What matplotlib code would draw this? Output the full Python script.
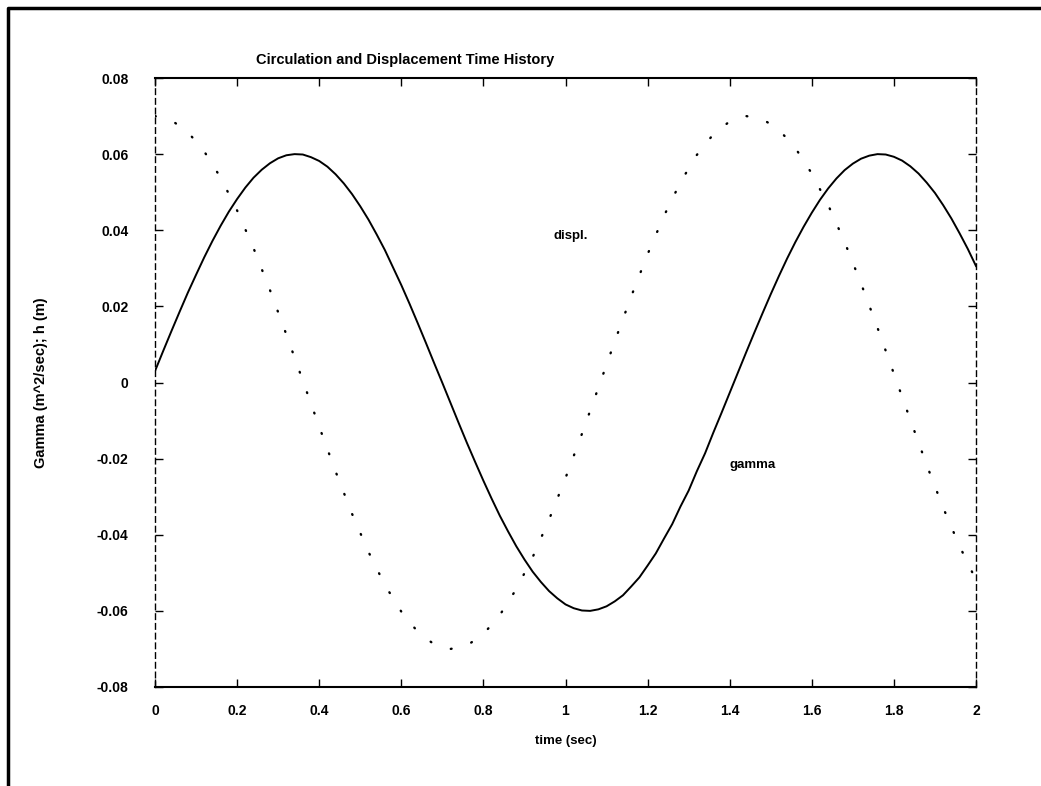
import numpy as np
import matplotlib
matplotlib.use("Agg")
import matplotlib.pyplot as plt
from matplotlib.lines import Line2D

plt.rcParams['font.family'] = ['Liberation Sans', 'DejaVu Sans']
plt.rcParams['font.weight'] = 'bold'
plt.rcParams['axes.labelweight'] = 'bold'
plt.rcParams['lines.scale_dashes'] = False

# time samples (sec)
t_gamma = np.arange(101) * 0.02
t_displ = np.arange(51) * 0.04

# circulation gamma (m^2/sec)
gamma = [0.0030, 0.0083, 0.0135, 0.0186, 0.0236, 0.0283, 0.0329, 0.0372, 0.0412, 0.0449,
         0.0482, 0.0512, 0.0538, 0.0559, 0.0576, 0.0589, 0.0597, 0.0600, 0.0599, 0.0592,
         0.0582, 0.0567, 0.0547, 0.0523, 0.0495, 0.0463, 0.0428, 0.0389, 0.0348, 0.0302,
         0.0256, 0.0207, 0.0156, 0.0104, 0.0051, -0.0001, -0.0054, -0.0107, -0.0159, -0.0209,
         -0.0258, -0.0305, -0.0350, -0.0391, -0.0430, -0.0465, -0.0497, -0.0524, -0.0548, -0.0567,
         -0.0583, -0.0593, -0.0599, -0.0600, -0.0596, -0.0588, -0.0575, -0.0559, -0.0536, -0.0512,
         -0.0481, -0.0449, -0.0410, -0.0372, -0.0326, -0.0284, -0.0233, -0.0186, -0.0132, -0.0080,
         -0.0027, 0.0026, 0.0079, 0.0131, 0.0182, 0.0232, 0.0280, 0.0326, 0.0369, 0.0409,
         0.0446, 0.0480, 0.0510, 0.0536, 0.0558, 0.0575, 0.0588, 0.0596, 0.0600, 0.0599,
         0.0593, 0.0583, 0.0568, 0.0549, 0.0525, 0.0498, 0.0466, 0.0431, 0.0392, 0.0351,
         0.0306]

# displacement h (m)
displ = [0.0700, 0.0689, 0.0658, 0.0607, 0.0538, 0.0452, 0.0353, 0.0243, 0.0126, 0.0005,
         -0.0116, -0.0234, -0.0345, -0.0445, -0.0532, -0.0602, -0.0655, -0.0688, -0.0700, -0.0691,
         -0.0661, -0.0611, -0.0543, -0.0459, -0.0360, -0.0251, -0.0135, -0.0014, 0.0108, 0.0226,
         0.0337, 0.0438, 0.0526, 0.0598, 0.0652, 0.0686, 0.0700, 0.0692, 0.0664, 0.0616,
         0.0549, 0.0466, 0.0369, 0.0260, 0.0144, 0.0023, -0.0098, -0.0217, -0.0329, -0.0430,
         -0.0519]

xticks = [0, 0.2, 0.4, 0.6, 0.8, 1, 1.2, 1.4, 1.6, 1.8, 2]
xticklabels = ['0', '0.2', '0.4', '0.6', '0.8', '1', '1.2', '1.4', '1.6', '1.8', '2']
yticks = [0.08, 0.06, 0.04, 0.02, 0, -0.02, -0.04, -0.06, -0.08]
yticklabels = ['0.08', '0.06', '0.04', '0.02', '0', '-0.02', '-0.04', '-0.06', '-0.08']

fig = plt.figure(figsize=(10.41, 7.86), dpi=100)
ax = fig.add_axes([155/1041, 1-687/786, (976-155)/1041, (687-78)/786])

ax.plot(t_gamma, gamma, color='black', lw=1.4)
ax.plot(t_displ, displ, color='black', lw=1.7, linestyle=(0, (0.6, 15)), dash_capstyle='round')

ax.text(0.97, 0.0384, 'displ.', fontsize=9.5, va='center', ha='left')
ax.text(1.40, -0.0218, 'gamma', fontsize=9.5, va='center', ha='left')

ax.set_xlim(0, 2)
ax.set_ylim(-0.08, 0.08)
ax.set_xticks(xticks)
ax.set_xticklabels(xticklabels)
ax.set_yticks(yticks)
ax.set_yticklabels(yticklabels)
ax.tick_params(direction='in', length=6, width=1, top=True, right=True, labelsize=10)
ax.tick_params(axis='y', pad=19)
ax.tick_params(axis='x', pad=12)

for side in ['top', 'bottom']:
    ax.spines[side].set_linewidth(1.5)
for side in ['left', 'right']:
    ax.spines[side].set_linewidth(1.0)
    ax.spines[side].set_linestyle((0, (4, 3)))

ax.set_xlabel('time (sec)', fontsize=9.5)
ax.xaxis.set_label_coords(0.5, -0.079)
ax.set_ylabel('Gamma (m^2/sec); h (m)', fontsize=10.5)
ax.yaxis.set_label_coords(-0.130, 0.5)

fig.text(405/1041, 1-60/786, 'Circulation and Displacement Time History', fontsize=10.5,
         ha='center', va='center')

# scanned page frame
fig.add_artist(Line2D([8/1041, 8/1041, 1.0], [0.0, 1-8/786, 1-8/786],
                      transform=fig.transFigure, color='black', lw=2.5))

fig.savefig('out.png', dpi=100)
